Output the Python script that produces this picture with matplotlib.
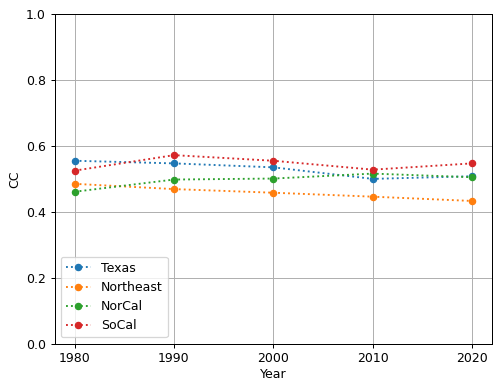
import numpy as np
import matplotlib.pyplot as plt

years = [1980, 1990, 2000, 2010, 2020]
texas = [0.555, 0.547, 0.535, 0.500, 0.508]
northeast = [0.485, 0.469, 0.458, 0.446, 0.433]
norcal = [0.461, 0.498, 0.501, 0.516, 0.505]
socal = [0.525, 0.572, 0.555, 0.528, 0.547]

# 90 dpi keeps the default styling a bit smaller on the 493x381 canvas
fig = plt.figure(figsize=(493 / 90, 381 / 90), dpi=90)
ax = fig.add_axes([0.111, 0.098, 0.887, 0.865])

ax.plot(years, texas, marker='o', linestyle=':', markersize=5, label='Texas')
ax.plot(years, northeast, marker='o', linestyle=':', markersize=5, label='Northeast')
ax.plot(years, norcal, marker='o', linestyle=':', markersize=5, label='NorCal')
ax.plot(years, socal, marker='o', linestyle=':', markersize=5, label='SoCal')

ax.set_ylim(0, 1)
ax.set_xticks(years)
ax.set_xlabel('Year', labelpad=2)
ax.set_ylabel('CC')
ax.legend(loc='lower left')
ax.grid(True)
fig.savefig('out.png', dpi=90)
